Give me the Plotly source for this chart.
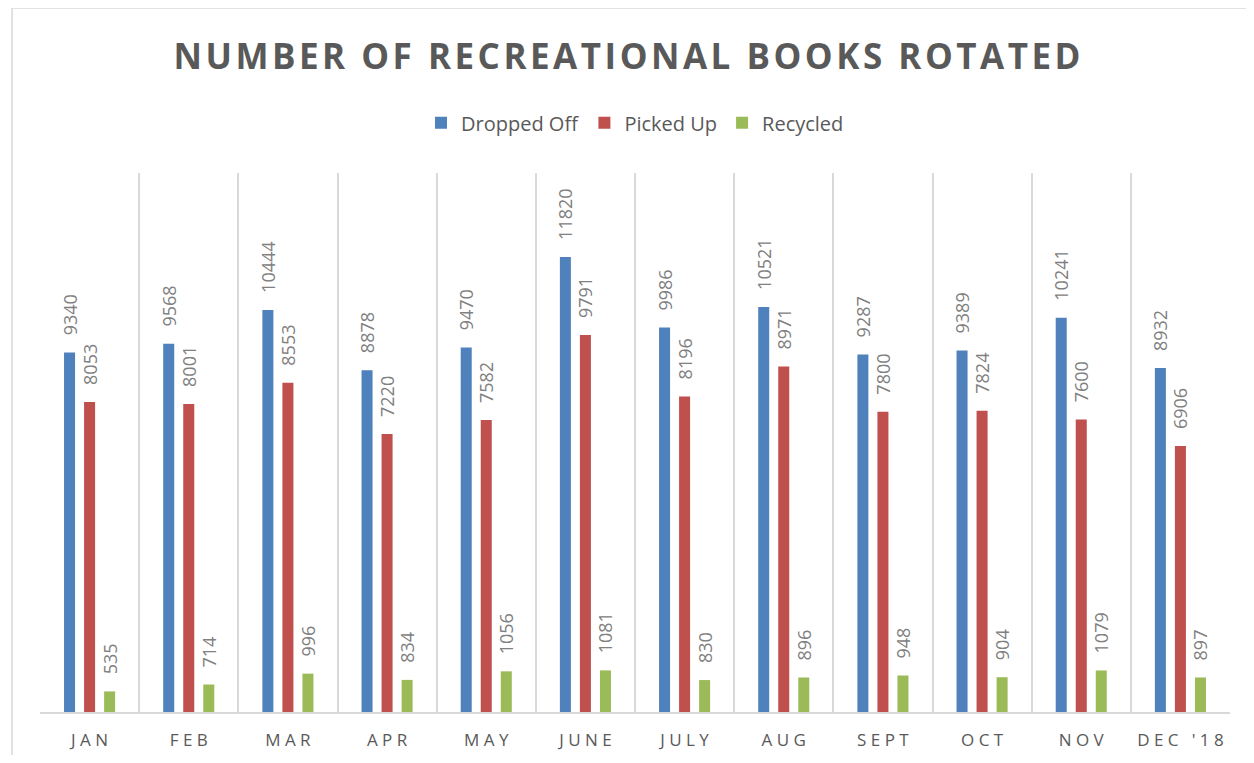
import plotly.graph_objects as go

months = ['JAN', 'FEB', 'MAR', 'APR', 'MAY', 'JUNE', 'JULY', 'AUG', 'SEPT', 'OCT', 'NOV', "DEC '18"]
dropped_off = [9340, 9568, 10444, 8878, 9470, 11820, 9986, 10521, 9287, 9389, 10241, 8932]
picked_up = [8053, 8001, 8553, 7220, 7582, 9791, 8196, 8971, 7800, 7824, 7600, 6906]
recycled = [535, 714, 996, 834, 1056, 1081, 830, 896, 948, 904, 1079, 897]

title = 'NUMBER OF RECREATIONAL BOOKS ROTATED'

# letter-spaced text like the Excel original
tick_text = [' '.join(m) for m in months]
title_text = '\u200a'.join(title)

label_font = dict(family='Open Sans', size=18, color='#808080')

def bar(name, vals, color):
    # leading nbsp's lift the rotated label off the bar top, as Excel does
    return go.Bar(x=months, y=vals, name=name, marker=dict(color=color, line=dict(width=0)),
                  texttemplate='\u00a0\u00a0\u00a0%{y:.0f}', textposition='outside', textangle=-90,
                  constraintext='none', textfont=label_font, cliponaxis=False)

fig = go.Figure([
    bar('Dropped Off', dropped_off, '#4F81BD'),
    bar('Picked Up', picked_up, '#C0504D'),
    bar('Recycled', recycled, '#9BBB59'),
])

# page body has an 8px margin, so the figure sits at (8, 8)
fig.update_layout(
    width=1238, height=747,
    barmode='group', bargap=0.394, bargroupgap=0.45,
    title=dict(text='<b>' + title_text + '</b>', x=0.5, xanchor='center',
               y=(747 - 49) / 747, yanchor='middle',
               font=dict(family='Open Sans', size=35, color='#595959')),
    legend=dict(orientation='h', x=0.5, xanchor='center', y=1.093, yanchor='middle',
                font=dict(family='Open Sans', size=20, color='#595959')),
    font=dict(family='Open Sans', color='#595959'),
    paper_bgcolor='white', plot_bgcolor='white',
    margin=dict(l=32, r=16, t=165, b=43),
    xaxis=dict(tickmode='array', tickvals=months, ticktext=tick_text, tickson='boundaries',
               showgrid=True, gridcolor='#d9d9d9', gridwidth=1.5, ticks='', range=[-0.5, 11.5],
               showline=True, linecolor='#d9d9d9', linewidth=2, automargin=False, tickangle=0,
               tickfont=dict(family='Open Sans', size=17, color='#595959'), ticklabelstandoff=12),
    yaxis=dict(range=[0, 14000], visible=False, showgrid=False, zeroline=False, automargin=False),
    shapes=[dict(type='rect', xref='paper', yref='paper', x0=-0.0235, x1=1.05, y0=-0.2, y1=1.306,
                 line=dict(color='#d9d9d9', width=1.5), layer='below')],
)

fig.write_html('out.html')
